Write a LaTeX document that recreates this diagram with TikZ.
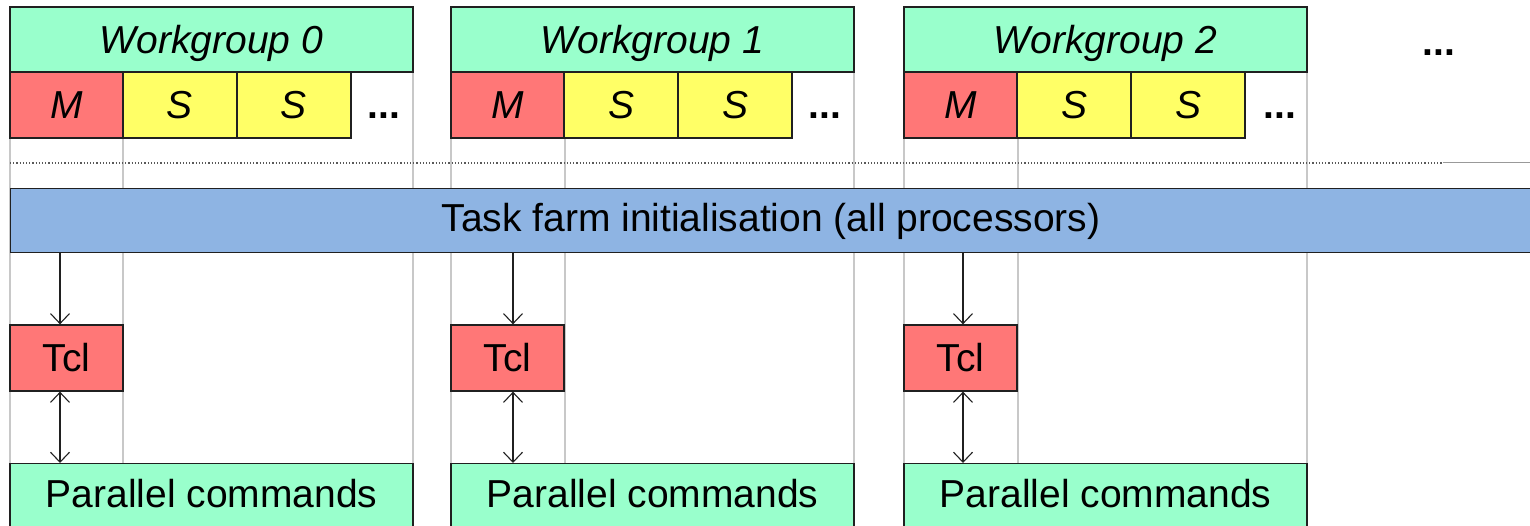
\documentclass[tikz,border=0pt]{standalone}
\usepackage{fontspec}
\setmainfont{Liberation Sans}
\usetikzlibrary{arrows.meta,calc}
\definecolor{wggreen}{HTML}{99FFCC}
\definecolor{mred}{HTML}{FF7777}
\definecolor{syellow}{HTML}{FFFF66}
\definecolor{barblue}{HTML}{8EB4E3}
\definecolor{gridgray}{HTML}{C8C8C8}
\definecolor{edge}{HTML}{202020}
\tikzset{
  box/.style={draw=edge, line width=1.3pt, inner sep=0pt, font=\fontsize{39}{44}\selectfont},
  wg/.style={box, fill=wggreen, minimum width=403pt, minimum height=65pt, text height=30pt, text depth=2pt, font=\fontsize{39}{44}\selectfont\itshape},
  mbox/.style={box, fill=mred, minimum width=113pt, minimum height=66pt, font=\fontsize{39}{44}\selectfont\itshape},
  sbox/.style={box, fill=syellow, minimum width=114pt, minimum height=66pt, font=\fontsize{39}{44}\selectfont\itshape},
  tclbox/.style={box, fill=mred, minimum width=113pt, minimum height=66pt},
  parbox/.style={box, fill=wggreen, minimum width=403pt, minimum height=66pt, text height=28pt, text depth=6pt},
  dots/.style={inner sep=0pt, anchor=base, font=\fontsize{39}{44}\selectfont\bfseries},
  grid/.style={draw=gridgray, line width=1.3pt},
  arr/.style={draw=edge, line width=1.1pt, -{Straight Barb[length=10pt,width=19pt]}},
  darr/.style={draw=edge, line width=1.1pt, {Straight Barb[length=10pt,width=19pt]}-{Straight Barb[length=10pt,width=19pt]}}
}
\begin{document}
\begin{tikzpicture}[x=1pt,y=-1pt]
\useasboundingbox (0,0) rectangle (1530,526);
\clip (0,0) rectangle (1530,526);
\fill[white] (0,0) rectangle (1530,526);
% grid lines
\foreach \gx in {10,123,413,451,565,854,904,1018,1307}
  \draw[grid] (\gx,72) -- (\gx,530);
% separator
\draw[draw=gray!70!black, line width=1.2pt, dotted] (10,163) -- (1443,163);
\draw[draw=gray!80, line width=1pt] (1443,163) -- (1535,163);
% workgroups
\foreach \i/\x in {0/10,1/451,2/904}{
  \node[wg] (wg\i) at (\x+201.5,39.5) {Workgroup \i};
  \node[mbox] (m\i) at (\x+56.5,105) {M};
  \node[sbox] (sa\i) at (\x+170,105) {S};
  \node[sbox] (sb\i) at (\x+284,105) {S};
}
\node[dots] (d0) at (384,119) {...};
\node[dots] (d1) at (825,119) {...};
\node[dots] (d2) at (1280,119) {...};
\node[dots] (d3) at (1439,56) {...};
% bar
\node[box, fill=barblue, minimum width=1530pt, minimum height=64pt, anchor=north west] (bar) at (10,188) {};
\node[inner sep=0pt, font=\fontsize{39}{44}\selectfont] (bartext) at (771,221) {Task farm initialisation (all processors)};
% Tcl and parallel
\foreach \i/\x/\ax in {0/10/60,1/451/513,2/904/963}{
  \node[tclbox] (tcl\i) at (\x+56.5,358) {Tcl};
  \node[parbox, anchor=north] (par\i) at (\x+201.5,463) {Parallel commands};
  \coordinate (a\i) at (\ax,358);
  \draw[arr] (bar.south -| a\i) -- (tcl\i.north -| a\i);
  \draw[darr] (tcl\i.south -| a\i) -- (par\i.north -| a\i);
}
\end{tikzpicture}
\end{document}
